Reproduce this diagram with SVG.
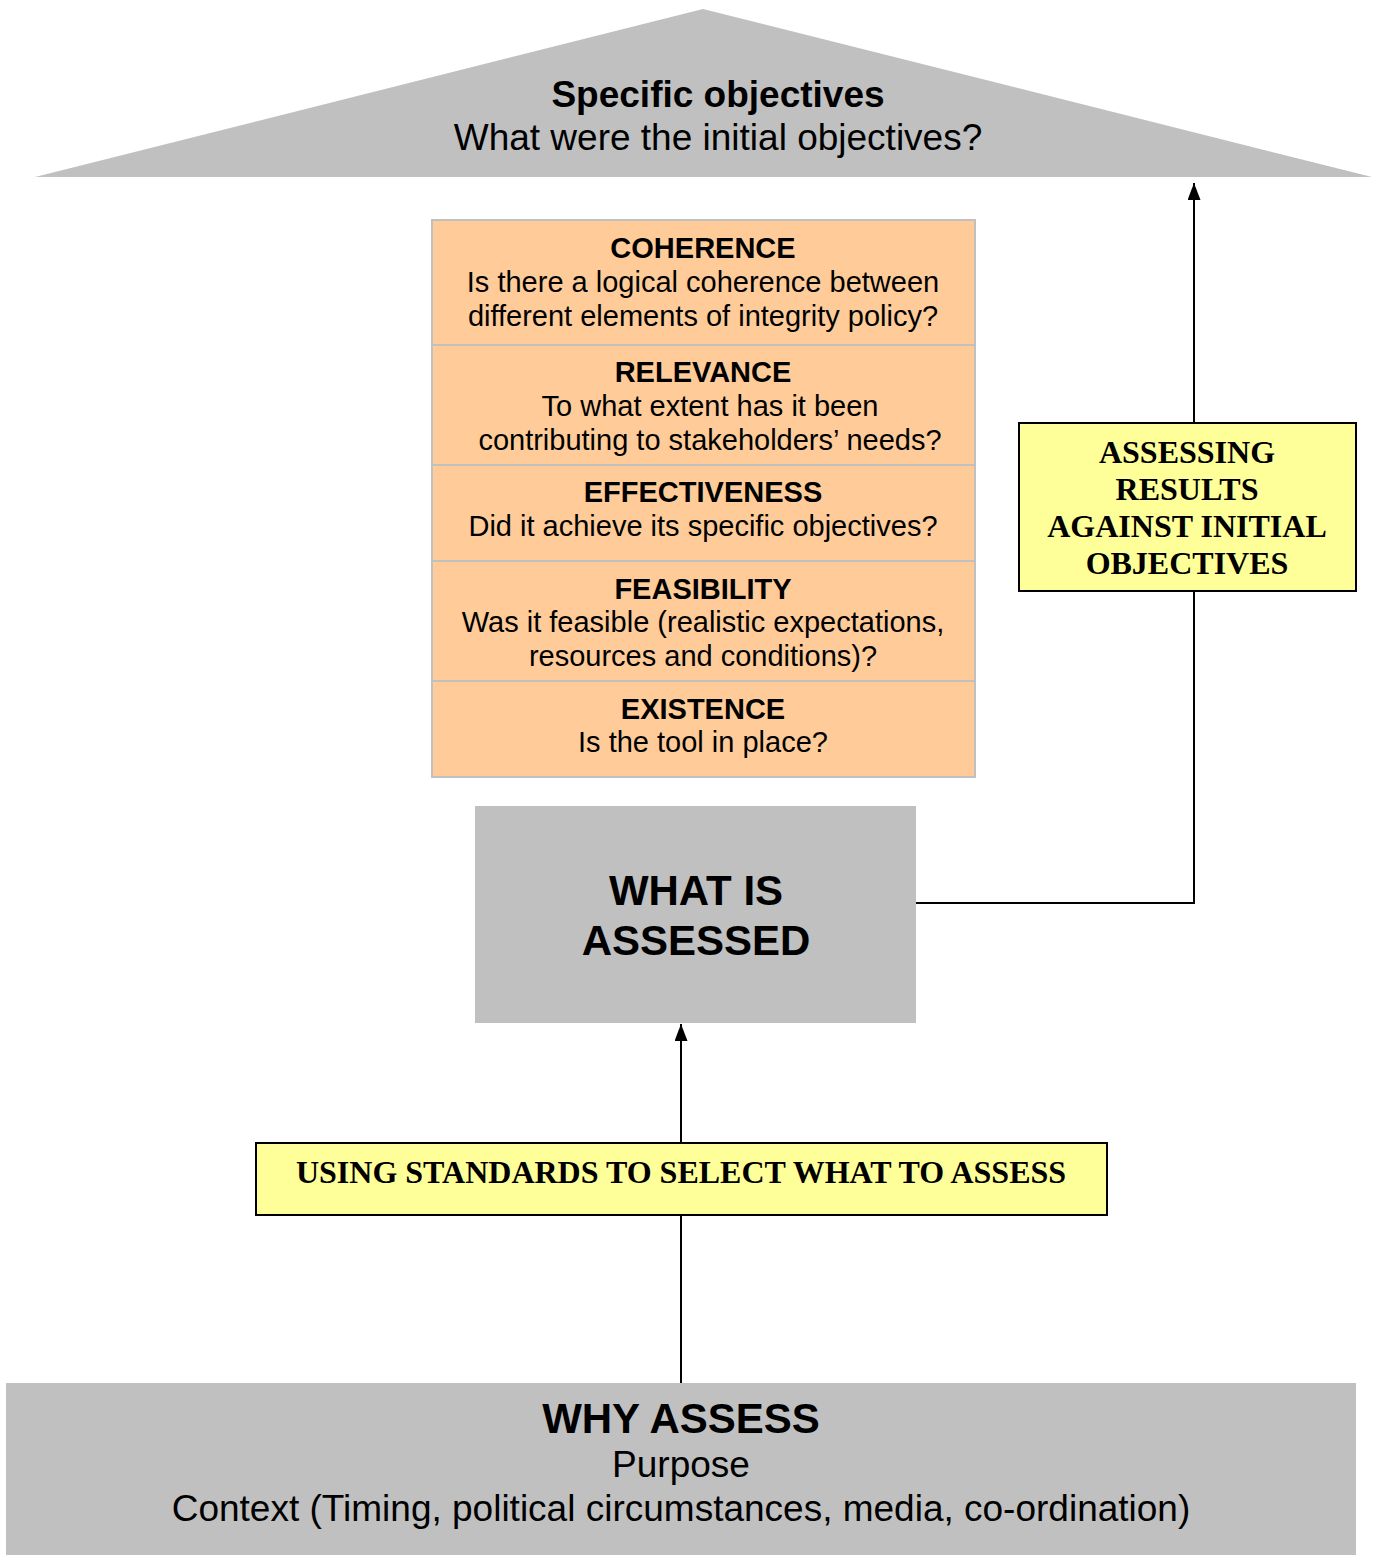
<svg xmlns="http://www.w3.org/2000/svg" width="1377" height="1555" viewBox="0 0 1377 1555">
<style>
.sans{font-family:"Liberation Sans",Arial,sans-serif;fill:#000;text-anchor:middle}
.serif{font-family:"Liberation Serif","Times New Roman",serif;font-weight:bold;fill:#000;text-anchor:middle}
.b{font-weight:bold}
.gray{fill:#c0c0c0}
.orange{fill:#ffcc99;stroke:#c0c0c0;stroke-width:2}
.yellow{fill:#ffff99;stroke:#000;stroke-width:2}
.conn{fill:none;stroke:#000;stroke-width:2}
</style>
<defs>
<marker id="arr" viewBox="0 0 17 13" refX="17" refY="6.5" markerWidth="17" markerHeight="13" markerUnits="userSpaceOnUse" orient="auto">
<path d="M0,0 L17,6.5 L0,13 Z" fill="#000"/>
</marker>
</defs>
<rect width="1377" height="1555" fill="#fff"/>
<g id="objectives">
<polygon class="gray" points="703,9 1372,177 35,177"/>
<text class="sans b" x="718" y="107" font-size="37">Specific objectives</text>
<text class="sans" x="718" y="150" font-size="37">What were the initial objectives?</text>
</g>
<g id="criteria" font-size="29">
<rect class="orange" x="432" y="220" width="543" height="125"/>
<rect class="orange" x="432" y="345" width="543" height="120"/>
<rect class="orange" x="432" y="465" width="543" height="96"/>
<rect class="orange" x="432" y="561" width="543" height="120"/>
<rect class="orange" x="432" y="681" width="543" height="96"/>
<text class="sans b" x="703" y="258">COHERENCE</text>
<text class="sans" x="703" y="292">Is there a logical coherence between</text>
<text class="sans" x="703" y="326">different elements of integrity policy?</text>
<text class="sans b" x="703" y="382">RELEVANCE</text>
<text class="sans" x="710" y="416">To what extent has it been</text>
<text class="sans" x="710" y="450">contributing to stakeholders’ needs?</text>
<text class="sans b" x="703" y="502">EFFECTIVENESS</text>
<text class="sans" x="703" y="536">Did it achieve its specific objectives?</text>
<text class="sans b" x="703" y="599">FEASIBILITY</text>
<text class="sans" x="703" y="632">Was it feasible (realistic expectations,</text>
<text class="sans" x="703" y="666">resources and conditions)?</text>
<text class="sans b" x="703" y="719">EXISTENCE</text>
<text class="sans" x="703" y="752">Is the tool in place?</text>
</g>
<g id="what-assessed">
<rect class="gray" x="475" y="806" width="441" height="217"/>
<text class="sans b" x="696" y="905" font-size="42">WHAT IS</text>
<text class="sans b" x="696" y="955" font-size="42">ASSESSED</text>
</g>
<g id="assessing-results">
<rect class="yellow" x="1019" y="423" width="337" height="168"/>
<text class="serif" x="1187" y="463" font-size="32">ASSESSING</text>
<text class="serif" x="1187" y="500" font-size="32">RESULTS</text>
<text class="serif" x="1187" y="537" font-size="32">AGAINST INITIAL</text>
<text class="serif" x="1187" y="574" font-size="32">OBJECTIVES</text>
</g>
<g id="using-standards">
<rect class="yellow" x="256" y="1143" width="851" height="72"/>
<text class="serif" x="681" y="1183" font-size="32">USING STANDARDS TO SELECT WHAT TO ASSESS</text>
</g>
<g id="why-assess">
<rect class="gray" x="6" y="1383" width="1350" height="172"/>
<text class="sans b" x="681" y="1433" font-size="42">WHY ASSESS</text>
<text class="sans" x="681" y="1477" font-size="37">Purpose</text>
<text class="sans" x="681" y="1521" font-size="37">Context (Timing, political circumstances, media, co-ordination)</text>
</g>
<g id="connectors">
<path class="conn" d="M916,903 H1194 V591"/>
<path class="conn" d="M1194,423 V183" marker-end="url(#arr)"/>
<path class="conn" d="M681,1383 V1215"/>
<path class="conn" d="M681,1143 V1024" marker-end="url(#arr)"/>
</g>
</svg>
